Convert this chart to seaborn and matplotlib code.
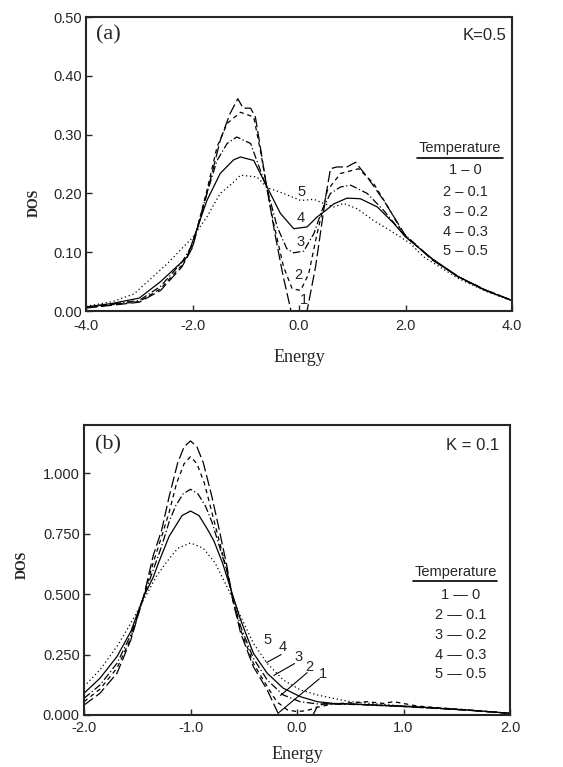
import matplotlib
matplotlib.use("Agg")
import matplotlib.pyplot as plt
import seaborn as sns
import pandas as pd

# ---- panel (a): K = 0.5 ----
E1a = [-4.0, -3.5, -3.0, -2.6, -2.2, -2.0, -1.73, -1.48, -1.3, -1.15, -1.05, -0.91, -0.82, -0.72, -0.6, -0.45,
       -0.3, -0.15, 0.15, 0.31, 0.5, 0.59, 0.71, 0.9, 1.06, 1.28, 1.59, 1.9, 2.0, 2.5, 3.0, 3.5, 4.0]
D1a = [0.005, 0.010, 0.015, 0.035, 0.075, 0.108, 0.200, 0.290, 0.335, 0.361, 0.345, 0.345, 0.330, 0.275, 0.207, 0.130,
       0.060, 0.0, 0.0, 0.075, 0.194, 0.242, 0.245, 0.245, 0.253, 0.228, 0.188, 0.143, 0.128, 0.087, 0.058, 0.036, 0.018]

E2a = [-4.0, -3.5, -3.0, -2.6, -2.2, -2.0, -1.73, -1.54, -1.35, -1.1, -0.85, -0.72, -0.6, -0.48, -0.29, -0.13,
       0.03, 0.18, 0.34, 0.53, 0.78, 1.12, 1.4, 1.71, 1.96, 2.5, 3.0, 3.5, 4.0]
D2a = [0.006, 0.011, 0.016, 0.038, 0.078, 0.110, 0.205, 0.279, 0.319, 0.338, 0.330, 0.270, 0.207, 0.150, 0.075, 0.038,
       0.035, 0.063, 0.132, 0.205, 0.234, 0.242, 0.217, 0.171, 0.130, 0.088, 0.058, 0.036, 0.018]

E3a = [-4.0, -3.5, -3.0, -2.6, -2.2, -2.0, -1.73, -1.54, -1.35, -1.17, -0.91, -0.6, -0.41, -0.23, -0.1,
       0.09, 0.28, 0.43, 0.59, 0.78, 0.97, 1.28, 1.59, 1.9, 2.5, 3.0, 3.5, 4.0]
D3a = [0.006, 0.012, 0.018, 0.042, 0.083, 0.113, 0.200, 0.256, 0.285, 0.296, 0.285, 0.208, 0.143, 0.106, 0.099,
       0.102, 0.132, 0.171, 0.200, 0.211, 0.214, 0.200, 0.171, 0.137, 0.088, 0.057, 0.035, 0.018]

E4a = [-4.0, -3.5, -3.0, -2.6, -2.1, -1.73, -1.48, -1.23, -1.1, -0.85, -0.6, -0.35, -0.1, 0.15, 0.34, 0.5,
       0.65, 0.9, 1.15, 1.47, 1.78, 2.0, 2.5, 3.0, 3.5, 4.0]
D4a = [0.007, 0.013, 0.022, 0.050, 0.092, 0.188, 0.234, 0.257, 0.262, 0.256, 0.211, 0.166, 0.140, 0.143, 0.160, 0.171,
       0.182, 0.192, 0.191, 0.177, 0.149, 0.126, 0.089, 0.058, 0.035, 0.018]

E5a = [-4.0, -3.5, -3.1, -2.48, -2.0, -1.73, -1.48, -1.23, -1.1, -0.79, -0.6, -0.29, 0.03, 0.28, 0.46,
       0.65, 0.84, 1.09, 1.4, 1.71, 2.09, 2.34, 3.0, 3.5, 4.0]
D5a = [0.008, 0.016, 0.029, 0.080, 0.125, 0.160, 0.200, 0.219, 0.231, 0.228, 0.210, 0.200, 0.188, 0.190, 0.183,
       0.177, 0.183, 0.174, 0.154, 0.137, 0.115, 0.092, 0.055, 0.034, 0.017]

# ---- panel (b): K = 0.1 ----
E1b = [-2.0, -1.85, -1.69, -1.56, -1.44, -1.35, -1.27, -1.2, -1.12, -1.06, -1.0, -0.94, -0.88, -0.8, -0.73,
       -0.66, -0.6, -0.53, -0.41, -0.28, -0.17, 0.15, 0.19, 0.25, 0.5, 1.0, 1.6, 2.0]
D1b = [0.041, 0.090, 0.173, 0.311, 0.490, 0.660, 0.766, 0.905, 1.044, 1.110, 1.134, 1.110, 1.044, 0.905, 0.766,
       0.620, 0.470, 0.340, 0.200, 0.104, 0.0, 0.0, 0.035, 0.046, 0.046, 0.035, 0.020, 0.007]

E2b = [-2.0, -1.85, -1.69, -1.56, -1.44, -1.35, -1.27, -1.2, -1.13, -1.06, -1.0, -0.94, -0.87, -0.8, -0.73,
       -0.66, -0.6, -0.53, -0.41, -0.28, -0.19, -0.09, 0.0, 0.09, 0.19, 0.34, 0.66, 0.81, 0.91, 1.13, 1.6, 2.0]
D2b = [0.055, 0.107, 0.194, 0.318, 0.490, 0.630, 0.740, 0.840, 0.960, 1.040, 1.069, 1.040, 0.960, 0.840, 0.720,
       0.600, 0.470, 0.353, 0.214, 0.118, 0.055, 0.021, 0.014, 0.018, 0.032, 0.046, 0.055, 0.048, 0.055, 0.037,
       0.021, 0.007]

E3b = [-2.0, -1.85, -1.69, -1.56, -1.44, -1.35, -1.27, -1.2, -1.14, -1.07, -1.0, -0.93, -0.86, -0.8, -0.73,
       -0.66, -0.6, -0.53, -0.41, -0.28, -0.13, 0.03, 0.19, 0.5, 1.0, 1.6, 2.0]
D3b = [0.069, 0.124, 0.214, 0.332, 0.490, 0.600, 0.700, 0.800, 0.865, 0.915, 0.934, 0.915, 0.865, 0.800, 0.700,
       0.600, 0.477, 0.367, 0.235, 0.145, 0.083, 0.055, 0.046, 0.044, 0.035, 0.020, 0.007]

E4b = [-2.0, -1.85, -1.69, -1.56, -1.44, -1.35, -1.3, -1.2, -1.16, -1.08, -1.0, -0.92, -0.84, -0.78, -0.7,
       -0.6, -0.53, -0.41, -0.28, -0.13, 0.03, 0.19, 0.34, 1.0, 1.6, 2.0]
D4b = [0.090, 0.152, 0.242, 0.346, 0.490, 0.570, 0.630, 0.740, 0.768, 0.825, 0.844, 0.825, 0.768, 0.720, 0.630,
       0.491, 0.394, 0.256, 0.173, 0.111, 0.076, 0.055, 0.048, 0.037, 0.021, 0.007]

E5b = [-2.0, -1.85, -1.69, -1.56, -1.44, -1.32, -1.23, -1.12, -1.0, -0.88, -0.77, -0.69, -0.6, -0.53, -0.41,
       -0.28, -0.13, 0.03, 0.19, 0.34, 0.5, 1.0, 1.6, 2.0]
D5b = [0.118, 0.187, 0.284, 0.380, 0.477, 0.574, 0.630, 0.690, 0.712, 0.690, 0.630, 0.560, 0.477, 0.408, 0.297,
       0.214, 0.145, 0.104, 0.083, 0.069, 0.055, 0.037, 0.021, 0.007]

temps = ["0", "0.1", "0.2", "0.3", "0.5"]
curve_ids = ["1", "2", "3", "4", "5"]
styles = [(0, (9, 3)), (0, (3.5, 3)), (0, (6, 2, 1, 2)), "-", (0, (1, 2.2))]

yticks_a = [0.0, 0.1, 0.2, 0.3, 0.4, 0.5]
xticks_a = [-4.0, -2.0, 0.0, 2.0, 4.0]
yticks_b = [0.0, 0.25, 0.5, 0.75, 1.0]
xticks_b = [-2.0, -1.0, 0.0, 1.0, 2.0]

# curve number labels placed near the curves (data coords)
labels_a_x = [0.09, -0.02, 0.02, 0.04, 0.04]
labels_a_y = [0.019, 0.061, 0.117, 0.158, 0.202]
labels_b_x = [0.24, 0.12, 0.01, -0.13, -0.28]
labels_b_y = [0.17, 0.20, 0.24, 0.28, 0.31]
leaders_b = [((-0.17, 0.01), (0.21, 0.15)),
             ((-0.155, 0.081), (0.095, 0.175)),
             ((-0.217, 0.164), (-0.023, 0.213)),
             ((-0.286, 0.217), (-0.149, 0.25))]

sns.set_style("ticks")
plt.rcParams["font.family"] = ["Liberation Sans", "DejaVu Sans"]
serif = ["Liberation Serif", "DejaVu Serif"]

fig = plt.figure(figsize=(5.63, 7.67), dpi=100)
ax_a = fig.add_axes([0.1528, 0.5945, 0.7567, 0.3833])
ax_b = fig.add_axes([0.1492, 0.0678, 0.7567, 0.3781])

panel_a = [(E1a, D1a), (E2a, D2a), (E3a, D3a), (E4a, D4a), (E5a, D5a)]
panel_b = [(E1b, D1b), (E2b, D2b), (E3b, D3b), (E4b, D4b), (E5b, D5b)]

for ax, panel in [(ax_a, panel_a), (ax_b, panel_b)]:
    for (e, d), ls in zip(panel, styles):
        df = pd.DataFrame({"Energy": e, "DOS": d})
        sns.lineplot(data=df, x="Energy", y="DOS", ax=ax, color="black",
                     linestyle=ls, linewidth=0.9, sort=False, estimator=None)

def style_axes(ax, xt, yt, yfmt, xpad, labelpad):
    ax.set_xticks(xt)
    ax.set_xticklabels([f"{v:.1f}" for v in xt])
    ax.set_yticks(yt)
    ax.set_yticklabels([yfmt.format(v) for v in yt])
    ax.set_xlim(xt[0], xt[-1])
    ax.tick_params(direction="in", length=4, width=1, labelsize=10.5, pad=3)
    ax.tick_params(axis="x", pad=xpad)
    for s in ax.spines.values():
        s.set_visible(True)
        s.set_linewidth(1.5)
    ax.set_xlabel("Energy", fontsize=13, family=serif, labelpad=labelpad)
    ax.set_ylabel("DOS", fontsize=10, family=serif, fontweight="bold")

style_axes(ax_a, xticks_a, yticks_a, "{:.2f}", 6, 11)
ax_a.set_ylim(0, 0.5)
ax_a.yaxis.set_label_coords(-0.105, 0.367)
style_axes(ax_b, xticks_b, yticks_b, "{:.3f}", 4, 8)
ax_b.set_ylim(0, 1.2)
ax_b.yaxis.set_label_coords(-0.13, 0.517)

ax_a.text(0.023, 0.939, "(a)", transform=ax_a.transAxes, family=serif, fontsize=16, va="center")
ax_b.text(0.026, 0.931, "(b)", transform=ax_b.transAxes, family=serif, fontsize=16, va="center")
ax_a.text(0.986, 0.937, "K=0.5", transform=ax_a.transAxes, fontsize=12, ha="right", va="center")
ax_b.text(0.974, 0.929, "K = 0.1", transform=ax_b.transAxes, fontsize=12, ha="right", va="center")

for cid, x, y in zip(curve_ids, labels_a_x, labels_a_y):
    ax_a.text(x, y, cid, fontsize=10.5, ha="center", va="center")
for cid, x, y in zip(curve_ids, labels_b_x, labels_b_y):
    ax_b.text(x, y, cid, fontsize=10.5, ha="center", va="center")
for (x0, y0), (x1, y1) in leaders_b:
    ax_b.plot([x0, x1], [y0, y1], color="black", linewidth=0.8)

# temperature keys
def temp_key(ax, xc, y_title, y_line, x_line, ys, dash):
    ax.text(xc, y_title, "Temperature", transform=ax.transAxes, fontsize=10.5, ha="center", va="center")
    ax.plot(x_line, [y_line, y_line], transform=ax.transAxes, color="black", linewidth=1.2)
    for cid, t, y in zip(curve_ids, temps, ys):
        ax.text(xc + 0.012, y, f"{cid} {dash} {t}", transform=ax.transAxes, fontsize=10.5, ha="center", va="center")

temp_key(ax_a, 0.878, 0.554, 0.521, [0.777, 0.979], [0.48, 0.406, 0.337, 0.268, 0.205], "\u2013")
temp_key(ax_b, 0.873, 0.493, 0.463, [0.772, 0.969], [0.414, 0.345, 0.276, 0.207, 0.141], "\u2014")

fig.savefig("out.png", dpi=100)
